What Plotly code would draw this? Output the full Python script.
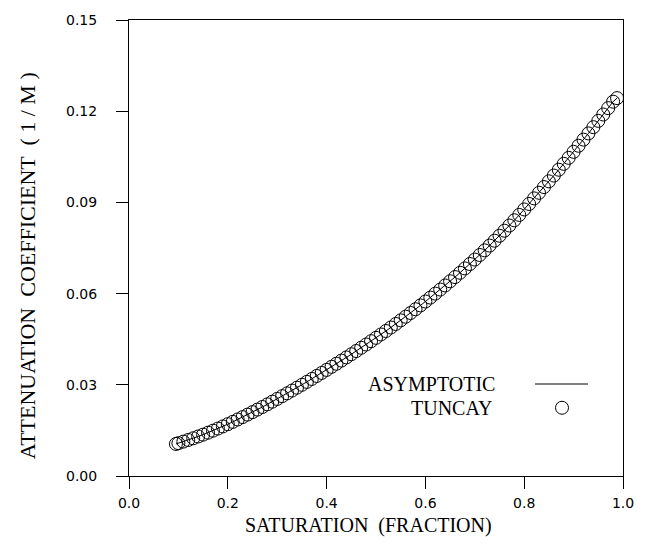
import plotly.graph_objects as go

saturation = [0.095, 0.10, 0.11, 0.12, 0.13, 0.14, 0.15, 0.16, 0.17, 0.18, 0.19,
              0.20, 0.21, 0.22, 0.23, 0.24, 0.25, 0.26, 0.27, 0.28, 0.29,
              0.30, 0.31, 0.32, 0.33, 0.34, 0.35, 0.36, 0.37, 0.38, 0.39,
              0.40, 0.41, 0.42, 0.43, 0.44, 0.45, 0.46, 0.47, 0.48, 0.49,
              0.50, 0.51, 0.52, 0.53, 0.54, 0.55, 0.56, 0.57, 0.58, 0.59,
              0.60, 0.61, 0.62, 0.63, 0.64, 0.65, 0.66, 0.67, 0.68, 0.69,
              0.70, 0.71, 0.72, 0.73, 0.74, 0.75, 0.76, 0.77, 0.78, 0.79,
              0.80, 0.81, 0.82, 0.83, 0.84, 0.85, 0.86, 0.87, 0.88, 0.89,
              0.90, 0.91, 0.92, 0.93, 0.94, 0.95, 0.96, 0.97, 0.98, 0.988]

attenuation = [0.01055, 0.01080, 0.01131, 0.01185, 0.01241, 0.01300, 0.01361, 0.01425, 0.01491, 0.01560, 0.01631,
               0.01705, 0.01781, 0.01859, 0.01938, 0.02019, 0.02101, 0.02185, 0.02270, 0.02357, 0.02445,
               0.02535, 0.02626, 0.02718, 0.02811, 0.02905, 0.03000, 0.03096, 0.03193, 0.03291, 0.03390,
               0.03490, 0.03591, 0.03693, 0.03796, 0.03900, 0.04005, 0.04111, 0.04218, 0.04326, 0.04435,
               0.04545, 0.04656, 0.04769, 0.04884, 0.05001, 0.05120, 0.05240, 0.05362, 0.05486, 0.05612,
               0.05740, 0.05869, 0.06000, 0.06133, 0.06268, 0.06405, 0.06544, 0.06685, 0.06828, 0.06973,
               0.07120, 0.07270, 0.07423, 0.07580, 0.07740, 0.07903, 0.08069, 0.08239, 0.08412, 0.08588,
               0.08768, 0.08949, 0.09132, 0.09317, 0.09504, 0.09693, 0.09883, 0.10075, 0.10269, 0.10465,
               0.10663, 0.10863, 0.11065, 0.11269, 0.11475, 0.11682, 0.11891, 0.12101, 0.12313, 0.12430]

x_ticks = [0.0, 0.2, 0.4, 0.6, 0.8, 1.0]
x_tick_labels = ["0.0", "0.2", "0.4", "0.6", "0.8", "1.0"]
y_ticks = [0.00, 0.03, 0.06, 0.09, 0.12, 0.15]
y_tick_labels = ["0.00", "0.03", "0.06", "0.09", "0.12", "0.15"]

series_names = ["ASYMPTOTIC", "TUNCAY"]

serif = "Liberation Serif, Times New Roman, serif"
sans = "DejaVu Sans, sans-serif"

fig = go.Figure()
fig.add_trace(go.Scatter(x=saturation, y=attenuation, mode="lines",
                         line=dict(color="black", width=1),
                         name=series_names[0], showlegend=False))
fig.add_trace(go.Scatter(x=saturation, y=attenuation, mode="markers",
                         marker=dict(symbol="circle", size=13, color="rgba(0,0,0,0)",
                                     line=dict(color="black", width=1)),
                         name=series_names[1], showlegend=False))

W, H = 655, 546
L, R, T, B = 129, 32, 15, 70
pw, ph = W - L - R, H - T - B

def px2paper_x(px):
    return (px - L) / pw

def px2paper_y(py):
    return (H - B - py) / ph

axis_common = dict(showgrid=False, zeroline=False, showline=True, linecolor="black",
                   linewidth=1, mirror=True, ticks="outside", ticklen=12, tickwidth=1,
                   tickcolor="black", tickfont=dict(family=sans, size=14, color="black"))

fig.update_xaxes(range=[0, 1.0], tickvals=x_ticks, ticktext=x_tick_labels,
                 ticklabelstandoff=2, **axis_common)
fig.update_yaxes(range=[0, 0.15], tickvals=y_ticks, ticktext=y_tick_labels,
                 ticklabelstandoff=16, **axis_common)

annotations = [
    dict(text="SATURATION  (FRACTION)", x=px2paper_x(368), y=px2paper_y(526),
         xref="paper", yref="paper", showarrow=False, xanchor="center", yanchor="middle",
         font=dict(family=serif, size=20, color="black")),
    dict(text="ATTENUATION  COEFFICIENT  ( 1 / M )", x=px2paper_x(27), y=px2paper_y(264),
         xref="paper", yref="paper", showarrow=False, xanchor="center", yanchor="middle",
         textangle=-90, font=dict(family=serif, size=22, color="black")),
    dict(text=series_names[0], x=px2paper_x(497), y=px2paper_y(383),
         xref="paper", yref="paper", showarrow=False, xanchor="right", yanchor="middle",
         font=dict(family=serif, size=20, color="black")),
    dict(text=series_names[1], x=px2paper_x(495), y=px2paper_y(407),
         xref="paper", yref="paper", showarrow=False, xanchor="right", yanchor="middle",
         font=dict(family=serif, size=20, color="black")),
]

shapes = [
    dict(type="line", xref="paper", yref="paper",
         x0=px2paper_x(535), x1=px2paper_x(588), y0=px2paper_y(383), y1=px2paper_y(383),
         line=dict(color="black", width=1)),
    dict(type="circle", xref="paper", yref="paper", xsizemode="pixel", ysizemode="pixel",
         xanchor=px2paper_x(562), yanchor=px2paper_y(407),
         x0=-6.5, x1=6.5, y0=-6.5, y1=6.5,
         line=dict(color="black", width=1), fillcolor="rgba(0,0,0,0)"),
]

fig.update_layout(width=W, height=H, margin=dict(l=L, r=R, t=T, b=B),
                  plot_bgcolor="white", paper_bgcolor="white",
                  annotations=annotations, shapes=shapes, showlegend=False)

fig.write_html("out.html")
